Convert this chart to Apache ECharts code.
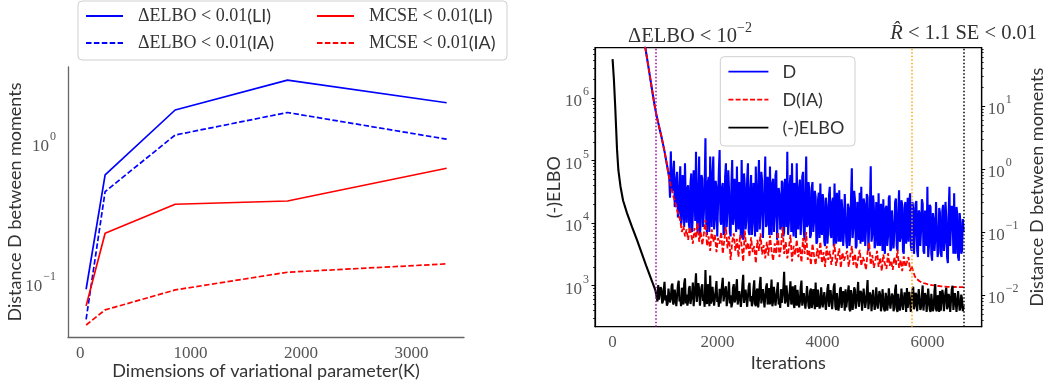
<!DOCTYPE html>
<html><head><meta charset="utf-8">
<script src="https://cdn.jsdelivr.net/npm/echarts@6/dist/echarts.min.js"></script>
<style>html,body{margin:0;padding:0;background:#fff}#c{width:1045px;height:388px}</style>
</head><body><div id="c"></div>
<script>
// ---------- Left panel data ----------
const kDims = [54, 226, 860, 1877, 3318];
const elboLI = [0.0906, 0.594, 1.73, 2.83, 1.95];
const elboIA = [0.0553, 0.452, 1.146, 1.66, 1.07];
const mcseLI = [0.0689, 0.2275, 0.367, 0.387, 0.663];
const mcseIA = [0.0503, 0.0645, 0.0896, 0.1199, 0.1375];
const leftXTicks = [0, 1000, 2000, 3000];
const leftYTicks = [0.1, 1];

// ---------- Right panel data ----------
const rightXTicks = [0, 2000, 4000, 6000];
const elboYTicks = [1e3, 1e4, 1e5, 1e6];
const dYTicks = [0.01, 0.1, 1, 10];
const stopIters = [815, 5695, 6687];   // ΔELBO, R-hat, SE stopping points

// smooth early parts
const elboHeadIter = [0, 25, 50, 85, 110, 150, 200, 275, 370, 465, 640, 815];
const elboHead = [4.2e6, 2.0e6, 7.4e5, 1.5e5, 7.1e4, 3.9e4, 2.3e4, 1.45e4, 8.7e3, 5.4e3, 2.1e3, 850];
const dHeadIter = [600, 650, 700, 750, 800, 840, 870, 900, 930, 960, 990, 1020, 1050];
const dHead = [112, 62, 34, 18.6, 10.3, 6.9, 5.4, 4.2, 3.3, 2.5, 1.9, 1.38, 1.0];

// noisy parts (regular iteration grids)
const D_START = 1080, D_STEP = 15;       // D
const IA_START = 1080, IA_STEP = 30;     // D(IA)
const EL_START = 840, EL_STEP = 15;      // (-)ELBO

const dBlue = [
0.72,0.35,1.9,0.5,0.45,0.9,1.35,0.25,0.28,0.7,0.9,0.17,0.2,0.55,1.1,0.13,0.16,0.8,0.62,0.12,1.23,0.3,0.14,0.5,
0.55,0.13,0.11,0.6,0.85,0.1,0.19,0.95,0.62,0.15,1.88,0.2,0.1,0.45,1.57,0.09,0.14,0.8,0.7,0.12,
0.2,0.55,3.07,0.14,0.09,0.6,0.75,0.1,1.57,0.35,0.12,0.85,1.57,0.11,0.16,0.65,0.5,0.085,0.08,0.9,
2.0,0.15,0.13,0.5,0.6,0.09,0.1,0.75,1.23,0.12,0.22,0.95,0.45,0.1,0.085,0.58,1.39,0.13,0.17,0.7,
0.72,0.1,1.09,0.16,0.11,0.62,0.38,0.08,1.39,0.2,0.075,0.85,0.55,0.11,0.15,0.7,1.23,0.1,0.09,0.48,
0.8,0.09,0.14,0.6,0.42,0.085,1.09,0.13,0.1,0.55,1.39,0.11,0.2,0.9,0.65,0.08,0.08,0.45,1.57,0.12,
0.13,0.75,0.5,0.09,1.09,0.14,0.09,0.6,0.7,0.1,0.18,0.8,0.95,0.075,0.07,0.5,0.4,0.11,0.12,0.65,
0.6,0.085,0.1,0.7,0.33,0.12,1.88,0.09,0.14,0.55,0.8,0.1,1.23,0.15,0.085,0.6,0.5,0.08,1.23,0.13,
0.11,0.5,0.68,0.09,0.16,0.75,0.9,0.1,0.075,0.4,1.57,0.12,0.13,0.62,0.44,0.08,0.09,0.5,0.62,0.1,
0.15,0.45,0.36,0.065,0.07,0.32,0.42,0.08,0.59,0.12,0.09,0.4,0.3,0.07,0.06,0.35,0.25,0.065,0.11,0.38,
0.52,0.09,0.08,0.3,0.35,0.06,0.59,0.1,0.065,0.42,0.27,0.07,0.46,0.085,0.07,0.33,0.22,0.06,0.1,0.4,
0.38,0.07,0.055,0.28,0.24,0.06,0.09,0.36,1.03,0.08,0.12,0.45,0.32,0.055,0.06,0.3,0.19,0.075,0.42,0.065,
0.52,0.08,0.07,0.34,0.28,0.06,0.11,0.4,0.36,0.05,0.05,0.25,1.1,0.07,0.09,0.38,0.25,0.055,0.065,0.3,
0.3,0.06,0.41,0.075,0.06,0.28,0.2,0.05,0.33,0.07,0.045,0.24,0.26,0.06,0.085,0.35,0.38,0.05,0.055,0.22,
0.22,0.055,0.1,0.3,0.34,0.06,0.05,0.2,0.46,0.07,0.08,0.32,0.27,0.05,0.045,0.24,0.3,0.065,0.12,0.35,
0.07,0.26,0.41,0.06,0.05,0.3,0.24,0.045,0.09,0.28,0.31,0.05,0.04,0.22,0.2,0.06,0.11,0.33,0.28,0.05,
0.045,0.22,0.18,0.06,0.52,0.04,0.06,0.27,0.25,0.045,0.035,0.2,0.16,0.05,0.08,0.3,0.29,0.04,0.05,0.24,
0.2,0.045,0.04,0.22,0.27,0.05,0.07,0.3,0.17,0.04,0.032,0.19,0.52,0.06,0.06,0.26,0.22,0.045,0.41,0.05,
0.045,0.25,0.19,0.04,0.035,0.2,0.14,0.045,0.05,0.16,0.1
];
const dIA = [
0.72,0.52,
0.42,0.34,0.28,0.22,0.186,0.15,0.1,0.125,0.085,0.11,
0.075,0.12,0.09,0.065,0.115,0.08,0.14,0.07,0.1,0.062,
0.095,0.155,0.06,0.085,0.05,0.11,0.07,0.09,0.048,0.08,
0.065,0.1,0.045,0.075,0.12,0.055,0.085,0.036,0.07,0.095,
0.05,0.078,0.04,0.09,0.06,0.034,0.105,0.052,0.068,0.04,
0.082,0.048,0.06,0.032,0.075,0.05,0.095,0.044,0.062,0.038,
0.07,0.042,0.088,0.05,0.035,0.066,0.045,0.1,0.04,0.058,
0.12,0.045,0.07,0.038,0.055,0.09,0.034,0.06,0.043,0.075,
0.04,0.058,0.033,0.08,0.045,0.1,0.036,0.052,0.03,0.065,
0.042,0.03,0.055,0.038,0.07,0.032,0.048,0.028,0.06,0.036,
0.05,0.03,0.044,0.065,0.029,0.04,0.055,0.027,0.047,0.035,
0.033,0.05,0.028,0.042,0.06,0.03,0.045,0.026,0.038,0.052,
0.029,0.04,0.034,0.025,0.048,0.068,0.03,0.043,0.027,0.036,
0.05,0.028,0.039,0.024,0.044,0.031,0.026,0.046,0.029,0.035,
0.025,0.04,0.03,0.052,0.027,0.036,0.024,0.041,0.028,0.033,
0.04,0.024,0.029,0.0235,0.0198,0.0182,0.0172,0.0165,0.016,0.0156,
0.0153,0.0151,0.0149,0.0147,0.0145,0.0143,0.0142,0.0141,0.014,0.0139,
0.0138,0.0137,0.0137,0.0136,0.0136,0.0135,0.0135,0.0135,0.0134,0.0134,
0.0134,0.0134,0.0134,0.0133,0.0133,0.0133
];
const elboNoise = [
790,560,1020,600,640,950,880,520,560,860,1150,580,700,480,520,900,960,540,610,1000,
1080,500,540,870,820,470,490,1010,1200,560,660,470,930,600,500,1090,1310,520,720,480,
560,900,990,510,480,760,1120,470,690,980,1580,550,530,1100,870,480,460,950,1050,570,
620,460,1780,590,510,1050,940,470,1450,520,580,960,1030,480,470,840,1190,550,650,460,
890,520,500,1000,1340,560,560,880,980,470,450,790,1160,520,700,450,520,930,1060,540,
590,940,1270,500,480,820,860,460,640,1080,1490,530,510,870,930,460,470,990,1110,560,
680,470,540,900,1220,510,470,820,900,450,600,1030,1380,520,520,880,830,450,460,950,
1090,500,630,920,500,780,1250,470,560,960,970,480,450,850,1130,500,610,440,880,530,
500,920,1670,520,570,1010,940,460,460,800,1180,500,640,980,510,440,1020,560,480,860,
870,450,540,930,1210,480,450,760,760,430,600,990,1050,470,430,820,900,440,520,880,
690,420,1120,500,460,870,820,430,500,940,980,450,420,790,740,410,560,900,1060,460,
440,850,810,420,620,960,1090,470,410,760,730,400,510,880,950,440,430,820,680,400,
880,450,460,790,1010,420,390,850,700,410,530,940,860,430,420,760,1150,460,480,830,
760,400,400,900,920,440,560,800,1230,420,430,780,690,390,380,860,850,410,500,940,
1010,430,410,820,720,390,470,880,880,420,390,770,640,400,530,910,960,430,400,750,
690,390,450,860,1040,420,380,740,760,400,500,900,870,410,410,780,640,380,920,440,
430,800,800,380,370,850,960,420,480,770,700,390,390,880,830,410,450,720,1010,400,
400,760,690,380,520,900,880,410,380,740,760,390,440,830,1060,420,390,700,650,380,
820,400,410,860,700,390,370,780,930,420,460,740,640,380,390,880,1000,410,420,760,
760,380,380,820,870,400,450,720,620,390,480
];

// ---------- helpers ----------
const SERIF = "'Liberation Serif','DejaVu Serif',serif";
const SANS = "Lato,'DejaVu Sans',sans-serif";
const TICK_C = '#555', NAME_C = '#333';

function pairs(xs, ys) { return xs.map((x, i) => [x, ys[i]]); }
function stepPairs(start, step, ys) { return ys.map((y, i) => [start + i * step, y]); }
function minorLog(lo, hi) {
  const out = [];
  for (let e = Math.floor(Math.log10(lo)); e <= Math.ceil(Math.log10(hi)); e++)
    for (let m = 2; m <= 9; m++) { const v = m * Math.pow(10, e); if (v >= lo && v <= hi) out.push(v); }
  return out;
}
function powLabel(v) {
  const e = Math.round(Math.log10(v));
  return '{b|10}{s|' + (e < 0 ? '\u2212' + (-e) : e) + '}';
}
const plainLabel = v => String(v);
const powRich = {
  b: { fontFamily: SERIF, fontSize: 17, color: TICK_C, lineHeight: 24, verticalAlign: 'bottom' },
  s: { fontFamily: SERIF, fontSize: 12, color: TICK_C, lineHeight: 24, verticalAlign: 'top', padding: [0, 0, 0, 1] }
};

const ELBO_MIN = 221, ELBO_MAX = 6.4e6, D_MIN = 0.00314, D_MAX = 84;

const chart = echarts.init(document.getElementById('c'), null, { renderer: 'canvas' });

const legendRich = {
  m: { fontFamily: SERIF, fontSize: 18, color: '#333', padding: [0, 0, 0, 10] },
  s: { fontFamily: SANS, fontSize: 18, color: '#333' }
};
function legendFmt(name) {
  const m = name.match(/^(.*)(\((?:LI|IA)\))$/);
  return '{m|' + m[1] + '}{s|' + m[2] + '}';
}
const noSymbol = { opacity: 0, borderWidth: 0, color: 'rgba(0,0,0,0)' };

const option = {
  animation: false,
  backgroundColor: '#fff',
  grid: [
    { left: 68, top: 67, width: 396, height: 270, containLabel: false, outerBoundsMode: 'none' },
    { left: 595, top: 47.7, width: 386.7, height: 279, containLabel: false, outerBoundsMode: 'none',
      show: true, borderColor: '#000', borderWidth: 1.2, backgroundColor: 'transparent' }
  ],
  xAxis: [
    { gridIndex: 0, type: 'value', min: -110, max: 3475,
      axisLine: { show: true, onZero: false, lineStyle: { color: '#666', width: 1.3 } },
      axisTick: { show: false }, splitLine: { show: false },
      axisLabel: { customValues: leftXTicks, formatter: plainLabel, fontFamily: SERIF, fontSize: 17, color: TICK_C, margin: 8 },
      name: 'Dimensions of variational parameter(K)', nameLocation: 'middle', nameGap: 25, nameMoveOverlap: false,
      nameTextStyle: { fontFamily: SANS, fontSize: 18, color: NAME_C } },
    { gridIndex: 1, type: 'value', min: -335, max: 7035,
      axisLine: { show: true, onZero: false, lineStyle: { color: '#000', width: 1.2 } },
      axisTick: { show: false }, splitLine: { show: false },
      axisLabel: { customValues: rightXTicks, formatter: plainLabel, fontFamily: SERIF, fontSize: 17, color: TICK_C, margin: 7 },
      name: 'Iterations', nameLocation: 'middle', nameGap: 27, nameMoveOverlap: false,
      nameTextStyle: { fontFamily: SANS, fontSize: 18, color: NAME_C } }
  ],
  yAxis: [
    { gridIndex: 0, type: 'log', logBase: 10, min: 0.0413, max: 3.51,
      axisLine: { show: true, onZero: false, lineStyle: { color: '#666', width: 1.3 } },
      axisTick: { show: false }, splitLine: { show: false }, minorTick: { show: false },
      axisLabel: { customValues: leftYTicks, formatter: powLabel, rich: powRich, margin: 12 },
      name: 'Distance D between moments', nameLocation: 'middle', nameGap: 44, nameRotate: 90, nameMoveOverlap: false,
      nameTextStyle: { fontFamily: SANS, fontSize: 18, color: NAME_C } },
    { gridIndex: 1, type: 'log', logBase: 10, min: ELBO_MIN, max: ELBO_MAX, position: 'left',
      axisLine: { show: true, onZero: false, lineStyle: { color: '#000', width: 1.2 } },
      axisTick: { show: true, customValues: elboYTicks, length: 3.5, lineStyle: { color: '#000' } },
      splitLine: { show: false },
      axisLabel: { customValues: elboYTicks, formatter: powLabel, rich: powRich, margin: 6 },
      name: '(-)ELBO', nameLocation: 'middle', nameGap: 32, nameRotate: 90, nameMoveOverlap: false,
      nameTextStyle: { fontFamily: SANS, fontSize: 18, color: NAME_C } },
    { gridIndex: 1, type: 'log', logBase: 10, min: D_MIN, max: D_MAX, position: 'right',
      axisLine: { show: true, onZero: false, lineStyle: { color: '#000', width: 1.2 } },
      axisTick: { show: true, customValues: dYTicks, length: 3.5, lineStyle: { color: '#000' } },
      splitLine: { show: false },
      axisLabel: { customValues: dYTicks, formatter: powLabel, rich: powRich, margin: 6 },
      name: 'Distance D between moments', nameLocation: 'middle', nameGap: 46, nameRotate: 90, nameMoveOverlap: false,
      nameTextStyle: { fontFamily: SANS, fontSize: 18, color: NAME_C } },
    { gridIndex: 1, type: 'log', logBase: 10, min: ELBO_MIN, max: ELBO_MAX, position: 'left',
      axisLine: { show: false, onZero: false }, axisLabel: { show: false }, splitLine: { show: false },
      axisTick: { show: true, customValues: minorLog(ELBO_MIN, ELBO_MAX), length: 2, lineStyle: { color: '#000', width: 0.8 } } },
    { gridIndex: 1, type: 'log', logBase: 10, min: D_MIN, max: D_MAX, position: 'right',
      axisLine: { show: false, onZero: false }, axisLabel: { show: false }, splitLine: { show: false },
      axisTick: { show: true, customValues: minorLog(D_MIN, D_MAX), length: 2, lineStyle: { color: '#000', width: 0.8 } } }
  ],
  legend: [
    { data: ['ΔELBO < 0.01(LI)', 'ΔELBO < 0.01(IA)'], orient: 'vertical', left: 85, top: 6, padding: 0,
      itemWidth: 37, itemHeight: 14, itemGap: 7, z: 10, formatter: legendFmt, itemStyle: noSymbol,
      textStyle: { lineHeight: 20, rich: legendRich } },
    { data: ['MCSE < 0.01(LI)', 'MCSE < 0.01(IA)'], orient: 'vertical', left: 316, top: 6, padding: 0,
      itemWidth: 37, itemHeight: 14, itemGap: 7, z: 10, formatter: legendFmt, itemStyle: noSymbol,
      textStyle: { lineHeight: 20, rich: legendRich } },
    { data: ['D', 'D(IA)', '(-)ELBO'], orient: 'vertical', left: 727.5, top: 61.7, padding: 0,
      itemWidth: 40, itemHeight: 14, itemGap: 8, z: 10, itemStyle: noSymbol,
      lineStyle: { width: 1.8 },
      formatter: n => '{t|' + n + '}',
      textStyle: { lineHeight: 20, rich: { t: { fontFamily: SANS, fontSize: 18, color: '#333', padding: [0, 0, 0, 9] } } } }
  ],
  graphic: [
    { type: 'rect', z: 8, silent: true, shape: { x: 78, y: 1, width: 429, height: 59, r: 4 },
      style: { fill: 'rgba(255,255,255,0.85)', stroke: '#cfcfcf', lineWidth: 1 } },
    { type: 'rect', z: 8, silent: true, shape: { x: 720.3, y: 56.7, width: 134.7, height: 89.3, r: 4 },
      style: { fill: 'rgba(255,255,255,0.85)', stroke: '#cfcfcf', lineWidth: 1 } },
    { type: 'text', z: 8, x: 690, y: 34, silent: true,
      style: { text: '{m|ΔELBO < 10}{s|\u22122}', align: 'center', verticalAlign: 'middle',
        textAlign: 'center', textVerticalAlign: 'middle',
        rich: { m: { fontFamily: SERIF, fontSize: 20.5, fill: '#333', color: '#333', lineHeight: 26, verticalAlign: 'bottom' },
                s: { fontFamily: SERIF, fontSize: 14, fill: '#333', color: '#333', lineHeight: 26, verticalAlign: 'top' } } } },
    { type: 'text', z: 8, x: 1037, y: 34, silent: true,
      style: { text: '{i|R\u0302}{m| < 1.1 SE < 0.01}', align: 'right', verticalAlign: 'middle',
        textAlign: 'right', textVerticalAlign: 'middle',
        rich: { i: { fontFamily: SERIF, fontStyle: 'italic', fontSize: 20.5, fill: '#333', color: '#333', lineHeight: 26 },
                m: { fontFamily: SERIF, fontSize: 20.5, fill: '#333', color: '#333', lineHeight: 26 } } } }
  ],
  series: [
    { name: 'ΔELBO < 0.01(LI)', type: 'line', xAxisIndex: 0, yAxisIndex: 0, data: pairs(kDims, elboLI),
      symbol: 'none', color: '#0000ff', lineStyle: { color: '#0000ff', width: 1.7 } },
    { name: 'ΔELBO < 0.01(IA)', type: 'line', xAxisIndex: 0, yAxisIndex: 0, data: pairs(kDims, elboIA),
      symbol: 'none', color: '#0000ff', lineStyle: { color: '#0000ff', width: 1.7, type: [5.5, 2.4] } },
    { name: 'MCSE < 0.01(LI)', type: 'line', xAxisIndex: 0, yAxisIndex: 0, data: pairs(kDims, mcseLI),
      symbol: 'none', color: '#ff0000', lineStyle: { color: '#ff0000', width: 1.7 } },
    { name: 'MCSE < 0.01(IA)', type: 'line', xAxisIndex: 0, yAxisIndex: 0, data: pairs(kDims, mcseIA),
      symbol: 'none', color: '#ff0000', lineStyle: { color: '#ff0000', width: 1.7, type: [5.5, 2.4] } },

    { name: 'D', type: 'line', xAxisIndex: 1, yAxisIndex: 2,
      data: pairs(dHeadIter, dHead).concat(stepPairs(D_START, D_STEP, dBlue)),
      symbol: 'none', color: '#0000ff', lineStyle: { color: '#0000ff', width: 2.1 }, clip: true, z: 2 },
    { name: 'D(IA)', type: 'line', xAxisIndex: 1, yAxisIndex: 2,
      data: pairs(dHeadIter, dHead).concat(stepPairs(IA_START, IA_STEP, dIA)),
      symbol: 'none', color: '#ff0000', lineStyle: { color: '#ff0000', width: 1.8, type: [5, 2.2] }, clip: true, z: 3 },
    { name: '(-)ELBO', type: 'line', xAxisIndex: 1, yAxisIndex: 1,
      data: pairs(elboHeadIter, elboHead).concat(stepPairs(EL_START, EL_STEP, elboNoise)),
      symbol: 'none', color: '#000', lineStyle: { color: '#000', width: 2.1 }, clip: true, z: 3,
      markLine: { silent: true, symbol: 'none', label: { show: false }, animation: false,
        lineStyle: { type: [1.5, 2], width: 1.5 },
        data: [
          { xAxis: stopIters[0], lineStyle: { color: '#a000a8', type: [1.5, 2], width: 1.5 } },
          { xAxis: stopIters[1], lineStyle: { color: '#ffa500', type: [1.5, 2], width: 1.5 } },
          { xAxis: stopIters[2], lineStyle: { color: '#000', type: [1.5, 2], width: 1.5 } }
        ] } }
  ]
};
chart.setOption(option);
</script>
</body></html>
